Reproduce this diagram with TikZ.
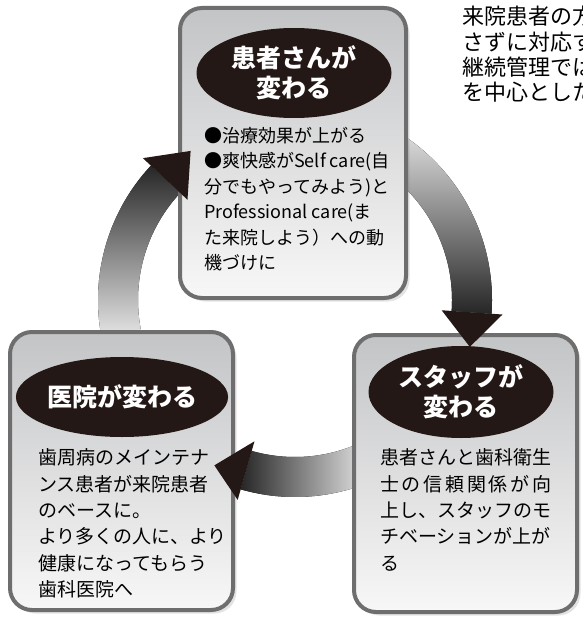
\documentclass[tikz,border=0pt]{standalone}
\usepackage{fontspec}
\setmainfont{Noto Sans CJK JP}
\usetikzlibrary{shapes.geometric,shadows,calc,positioning}
\definecolor{ink}{HTML}{231815}
\definecolor{rim}{HTML}{6E6E6E}
\definecolor{pale}{HTML}{C3C4C6}
\tikzstyle{card}=[rectangle, rounded corners=22pt, draw=rim, line width=4pt, top color=pale, bottom color=white!97!black, drop shadow={shadow xshift=3.5pt, shadow yshift=-3.5pt, opacity=.22}]
\tikzstyle{badge}=[ellipse, fill=ink, text=white, inner sep=0pt, align=center, font=\bfseries\fontsize{25}{30}\selectfont]
\tikzstyle{note}=[anchor=north west, inner sep=0pt, align=left, font=\fontsize{19}{26.4}\selectfont]
\tikzstyle{dart}=[fill=ink]

\begin{document}
\begin{tikzpicture}[x=1pt,y=-1pt]
\path[use as bounding box, clip] (0,0) rectangle (582,618);
\fill[white] (0,0) rectangle (582,618);
\coordinate (hub) at (295,300);
\fill[top color=gray!8, bottom color=black!85] ($(hub)+(-75:197)$) arc[start angle=-75, end angle=4, radius=197]
  -- ($(hub)+(4:157)$) arc[start angle=4, end angle=-75, radius=157] -- cycle;
\fill[right color=gray!8, left color=black!85] ($(hub)+(65:197)$) arc[start angle=65, end angle=106, radius=197]
  -- ($(hub)+(106:157)$) arc[start angle=106, end angle=65, radius=157] -- cycle;
\fill[bottom color=gray!8, top color=black!85] ($(hub)+(165:197)$) arc[start angle=165, end angle=223, radius=197]
  -- ($(hub)+(223:157)$) arc[start angle=223, end angle=165, radius=157] -- cycle;

\node[card, minimum width=226pt, minimum height=290pt] (patient) at (293,153) {};
\node[card, minimum width=223pt, minimum height=278pt] (clinic) at (121.5,471) {};
\node[card, minimum width=223pt, minimum height=277pt] (staff) at (465.5,473.5) {};

\node[badge, minimum width=195pt, minimum height=90pt] (patienttag) at (294,73) {患者さんが\\変わる};
\node[badge, minimum width=190pt, minimum height=80pt] (clinictag) at (122,397) {医院が変わる};
\node[badge, minimum width=185pt, minimum height=92pt] (stafftag) at (461,392) {スタッフが\\変わる};

\node[note, font=\fontsize{18}{25.5}\selectfont] (patientnote) at (204,127) {●治療効果が上がる\\●爽快感がSelf care(自\\分でもやってみよう)と\\Professional care(ま\\た来院しよう）への動\\機づけに};
\node[note] (clinicnote) at (38,448.5) {歯周病のメインテナ\\ンス患者が来院患者\\のベースに。\\より多くの人に、より\\健康になってもらう\\歯科医院へ};
\node[note] (staffnote) at (380,448.5) {患者さんと歯科衛生\\\hbox to 171pt{士\hfil の\hfil 信\hfil 頼\hfil 関\hfil 係\hfil が\hfil 向}\\上し、スタッフのモ\\チベーションが上が\\る};

\node[note, font=\fontsize{22}{25.3}\selectfont] (intro) at (462,6) {来院患者の方\\さずに対応す\\継続管理では\\を中心とした};

\fill[dart] ($(hub)+(4:147)$) -- ($(hub)+(4:208)$) -- ($(hub)+(15:181)$) -- cycle;
\fill[dart] ($(hub)+(106:147)$) -- ($(hub)+(106:208)$) -- ($(hub)+(116:184)$) -- cycle;
\fill[dart] ($(hub)+(223:147)$) -- ($(hub)+(223:208)$) -- ($(hub)+(235:182)$) -- cycle;
\end{tikzpicture}
\end{document}
